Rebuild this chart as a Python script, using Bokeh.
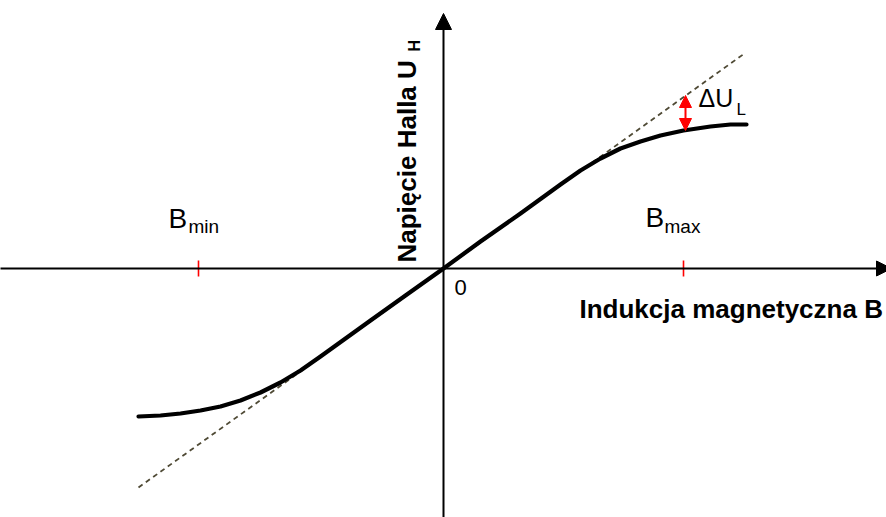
import math

from bokeh.embed import file_html
from bokeh.models import Arrow, ColumnDataSource, Label, NormalHead, Range1d
from bokeh.plotting import figure
from bokeh.resources import INLINE

# Hall sensor transfer characteristic: measured curve and ideal linear response
induction_b = [-3.05, -2.83, -2.63, -2.43, -2.23, -2.03, -1.83, -1.63, -1.43, -1.23,
               -0.73, -0.38, 0.0, 0.37, 0.77, 1.17, 1.37, 1.57, 1.77, 1.97, 2.17,
               2.40, 2.67, 2.87, 3.03]
hall_voltage = [-1.48, -1.47, -1.45, -1.42, -1.38, -1.32, -1.24, -1.14, -1.02, -0.88,
                -0.52, -0.27, 0.0, 0.27, 0.55, 0.84, 0.98, 1.10, 1.20, 1.27, 1.33,
                1.38, 1.42, 1.44, 1.44]

ideal_b = [-3.05, 3.01]
ideal_u = [-2.19, 2.15]

b_min = -2.45
b_max = 2.40
delta_ul_at = 2.42
delta_ul_low = 1.38
delta_ul_high = 1.73

FONT = "Liberation Sans"

p = figure(width=886, height=517, output_backend="svg", toolbar_location=None,
           x_range=Range1d(-4.43, 4.43), y_range=Range1d(-2.49, 2.68),
           x_axis_location=None, y_axis_location=None,
           min_border=0, min_border_left=0, min_border_right=0,
           min_border_top=0, min_border_bottom=0)
p.grid.visible = False
p.outline_line_color = None
p.background_fill_color = "white"
p.border_fill_color = "white"

# coordinate axes with arrowheads
p.add_layout(Arrow(end=NormalHead(size=15, fill_color="black", line_color="black"),
                   x_start=-4.45, y_start=0, x_end=4.48, y_end=0,
                   line_width=2, line_color="black"))
p.add_layout(Arrow(end=NormalHead(size=16, fill_color="black", line_color="black"),
                   x_start=0, y_start=-2.52, x_end=0, y_end=2.55,
                   line_width=2, line_color="black"))

# red range ticks on the B axis
p.segment(x0=[b_min, b_max], y0=[-0.08, -0.08], x1=[b_min, b_max], y1=[0.08, 0.08],
          line_color="red", line_width=1.6)

# ideal linear characteristic
p.line(ideal_b, ideal_u, line_color="#4f4a35", line_width=1.8, line_dash="5 4")

# measured characteristic
src = ColumnDataSource(dict(b=induction_b, u=hall_voltage))
p.line("b", "u", source=src, line_color="black", line_width=4.2,
       line_join="round", line_cap="round")

# linearity error marker
p.add_layout(Arrow(start=NormalHead(size=12, fill_color="red", line_color="red"),
                   end=NormalHead(size=12, fill_color="red", line_color="red"),
                   x_start=delta_ul_at, y_start=delta_ul_low,
                   x_end=delta_ul_at, y_end=delta_ul_high,
                   line_width=2, line_color="red"))


def label(x, y, text, size, bold=False, vertical=False):
    # y (or x for vertical text) is the intended baseline; compensate the
    # renderer's baseline placement so glyphs sit on it
    shift = 0.0038 * size
    if vertical:
        x -= shift
    else:
        y += shift
    p.add_layout(Label(x=x, y=y, text=text, text_font=FONT,
                       text_font_size=f"{size}px",
                       text_font_style="bold" if bold else "normal",
                       text_align="left", text_baseline="alphabetic",
                       text_color="black",
                       angle=math.pi / 2 if vertical else 0.0))


# axis titles
label(1.36, -0.50, "Indukcja magnetyczna B", 26, bold=True)
label(-0.27, 0.06, "Napięcie Halla U", 26, bold=True, vertical=True)
label(-0.23, 2.17, "H", 16, bold=True, vertical=True)

# origin and range labels
label(0.11, -0.27, "0", 22)
label(-2.75, 0.39, "B", 28)
label(-2.55, 0.35, "min", 19)
label(2.02, 0.40, "B", 28)
label(2.21, 0.35, "max", 19)
label(2.55, 1.61, "ΔU", 25)
label(2.93, 1.53, "L", 17)

open("out.html", "w").write(file_html(p, INLINE))
